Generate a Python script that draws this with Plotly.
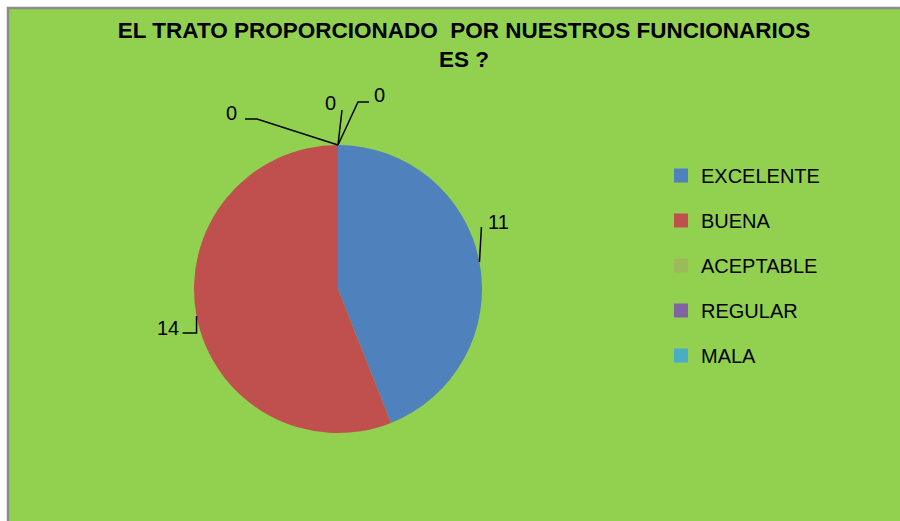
import math
import plotly.graph_objects as go

# ---- data ----
categories = ["EXCELENTE", "BUENA", "ACEPTABLE", "REGULAR", "MALA"]
values = [11, 14, 0, 0, 0]
colors = ["#4F81BD", "#C0504D", "#9BBB59", "#8064A2", "#4BACC6"]
title_line1 = "EL TRATO PROPORCIONADO&nbsp; POR NUESTROS FUNCIONARIOS"
title_line2 = "ES ?"

# ---- layout constants (pixels) ----
W, H = 900, 521
CX, CY, R = 338, 289, 144
GREEN = "#92D050"
FONT = "Liberation Sans, Arial, sans-serif"

# leader-line / label offsets relative to each slice's anchor point (px)
label_style = [
    dict(knee=(2, -35), end=None, text=(7, -40), xanchor="left"),
    dict(knee=(0, 17), end=(-14, 17), text=(-16, 12), xanchor="right"),
    dict(knee=(-81, -26), end=(-93, -26), text=(-99, -32), xanchor="right"),
    dict(knee=(4, -35), end=None, text=(0, -42), xanchor="right"),
    dict(knee=(20, -43), end=(31, -43), text=(34, -50), xanchor="left"),
]


def px(x, y):
    return x / W, 1 - y / H


fig = go.Figure()
fig.add_trace(go.Pie(
    labels=categories, values=values, sort=False, direction="clockwise",
    rotation=0, marker=dict(colors=colors, line=dict(width=0)),
    textinfo="none", hoverinfo="label+value", showlegend=False,
    domain=dict(x=[(CX - R) / W, (CX + R) / W], y=[1 - (CY + R) / H, 1 - (CY - R) / H]),
))

# legend entries (one group each so spacing can be controlled)
for cat, col in zip(categories, colors):
    fig.add_trace(go.Scatter(
        x=[None], y=[None], mode="markers", name=cat, legendgroup=cat,
        marker=dict(symbol="square", size=14, color=col), showlegend=True,
    ))

shapes = [
    dict(type="rect", xref="paper", yref="paper", x0=8 / W, x1=1.05, y0=-0.05, y1=1 - 8 / H,
         fillcolor=GREEN, line=dict(color="#8C8C8C", width=2.5), layer="below"),
]
annotations = []
total = sum(values)
cum = 0
for i, v in enumerate(values):
    a = math.radians((cum + v / 2) / total * 360)
    cum += v
    ax, ay = CX + R * math.sin(a), CY - R * math.cos(a)
    st = label_style[i]
    pts = [(ax, ay), (ax + st["knee"][0], ay + st["knee"][1])]
    if st["end"]:
        pts.append((ax + st["end"][0], ay + st["end"][1]))
    path = ""
    for j, (x, y) in enumerate(pts):
        qx, qy = px(x, y)
        path += ("M" if j == 0 else " L") + f"{qx:.5f},{qy:.5f}"
    shapes.append(dict(type="path", xref="paper", yref="paper", path=path,
                       line=dict(color="black", width=1.5)))
    tx, ty = px(ax + st["text"][0], ay + st["text"][1])
    annotations.append(dict(x=tx, y=ty, xref="paper", yref="paper", text=str(v),
                            showarrow=False, xanchor=st["xanchor"], yanchor="middle",
                            font=dict(family=FONT, size=20, color="black")))

fig.update_layout(
    width=W, height=H,
    margin=dict(l=0, r=0, t=0, b=0),
    paper_bgcolor="white", plot_bgcolor="rgba(0,0,0,0)",
    title=dict(text=f"<b>{title_line1}<br>{title_line2}</b>", x=464 / W, xanchor="center",
               y=1 - 38 / H, yanchor="middle", yref="container",
               font=dict(family=FONT, size=22.5, color="black")),
    xaxis=dict(visible=False), yaxis=dict(visible=False),
    showlegend=True,
    legend=dict(x=661 / W, xanchor="left", y=1 - 156 / H, yanchor="top",
                font=dict(family=FONT, size=20, color="black"),
                bgcolor="rgba(0,0,0,0)", tracegroupgap=16, itemclick=False),
    shapes=shapes, annotations=annotations,
)

fig.write_html(
    "out.html",
    config={"displayModeBar": False},
    post_script="document.body.style.margin='0';document.body.style.overflow='hidden';",
)
